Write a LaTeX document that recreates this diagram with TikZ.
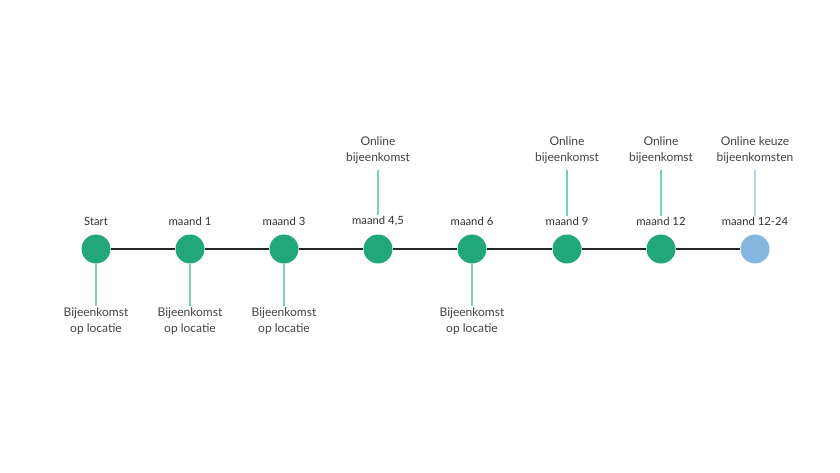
\documentclass[tikz,border=0pt]{standalone}
\usepackage{fontspec}
\setmainfont{Lato}
\usetikzlibrary{positioning}

\definecolor{mgreen}{HTML}{22A77A}
\definecolor{mblue}{HTML}{85B6E0}
\definecolor{stemgreen}{HTML}{7ED0B3}
\definecolor{stemblue}{HTML}{B4D4EF}
\definecolor{txtgray}{HTML}{333333}
\definecolor{notegray}{HTML}{444444}

\tikzset{
    dot/.style={circle, fill=mgreen, minimum size=29pt, inner sep=0pt},
    dotblue/.style={dot, fill=mblue},
    month/.style={text=txtgray, font=\fontsize{11.3}{16}\selectfont, inner sep=1pt},
    note/.style={text=notegray, font=\fontsize{12}{16}\selectfont, align=center, inner sep=1pt},
    timeline/.style={black!85, line width=1.3pt},
    stem/.style={stemgreen, line width=1.1pt},
    stemb/.style={stemblue, line width=1.1pt}
}

\begin{document}
\begin{tikzpicture}[x=1pt, y=-1pt]
    \useasboundingbox[fill=white] (0,0) rectangle (840,472);

    % Timeline dots
    \node[dot] (m0) at (96,249) {};
    \node[dot] (m1) at (190,249) {};
    \node[dot] (m2) at (284,249) {};
    \node[dot] (m3) at (378,249) {};
    \node[dot] (m4) at (472,249) {};
    \node[dot] (m5) at (567,249) {};
    \node[dot] (m6) at (661,249) {};
    \node[dotblue] (m7) at (755,249) {};

    % Main line
    \draw[timeline] (m0) -- (m1);
    \draw[timeline] (m1) -- (m2);
    \draw[timeline] (m2) -- (m3);
    \draw[timeline] (m3) -- (m4);
    \draw[timeline] (m4) -- (m5);
    \draw[timeline] (m5) -- (m6);
    \draw[timeline] (m6) -- (m7);

    % Month labels
    \node[month] (l0) at (96,221) {Start};
    \node[month] (l1) at (190,221) {maand 1};
    \node[month] (l2) at (284,221) {maand 3};
    \node[month] (l3) at (378,221) {maand 4,5};
    \node[month] (l4) at (472,221) {maand 6};
    \node[month] (l5) at (567,221) {maand 9};
    \node[month] (l6) at (661,221) {maand 12};
    \node[month] (l7) at (755,221) {maand 12-24};

    % Meetings on location (below)
    \node[note] (b0) at (96,321) {Bijeenkomst\\op locatie};
    \node[note] (b1) at (190,321) {Bijeenkomst\\op locatie};
    \node[note] (b2) at (284,321) {Bijeenkomst\\op locatie};
    \node[note] (b4) at (472,321) {Bijeenkomst\\op locatie};
    \draw[stem] (m0) -- (b0);
    \draw[stem] (m1) -- (b1);
    \draw[stem] (m2) -- (b2);
    \draw[stem] (m4) -- (b4);

    % Online meetings (above)
    \node[note] (t3) at (378,150) {Online\\bijeenkomst};
    \node[note] (t5) at (567,150) {Online\\bijeenkomst};
    \node[note] (t6) at (661,150) {Online\\bijeenkomst};
    \node[note] (t7) at (755,150) {Online keuze\\bijeenkomsten};
    \draw[stem, shorten <=5pt] (t3) -- (l3);
    \draw[stem, shorten <=5pt] (t5) -- (l5);
    \draw[stem, shorten <=5pt] (t6) -- (l6);
    \draw[stemb, shorten <=5pt] (t7) -- (l7);
\end{tikzpicture}
\end{document}
